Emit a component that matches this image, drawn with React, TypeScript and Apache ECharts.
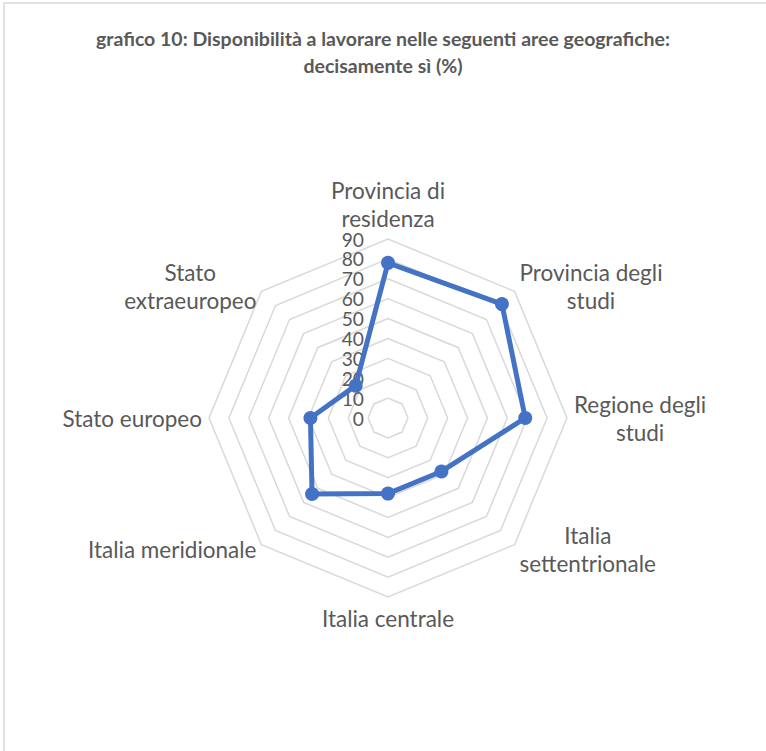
import React, { useEffect, useRef } from "react";
import * as echarts from "echarts";

const titleLines = [
  "grafico 10: Disponibilità a lavorare nelle seguenti aree geografiche:",
  "decisamente sì (%)",
];

// Clockwise order starting from the top, as in the reference
const categories = [
  "Provincia di\nresidenza",
  "Provincia degli\nstudi",
  "Regione degli\nstudi",
  "Italia\nsettentrionale",
  "Italia centrale",
  "Italia meridionale",
  "Stato europeo",
  "Stato\nextraeuropeo",
];
const values = [78, 81, 69, 38, 38, 54, 39, 23];
const axisMin = 0;
const axisMax = 90;
const axisSplit = 9;

const FONT = "Lato, 'Open Sans', sans-serif";
const TEXT = "#595959";
const GRID = "#d9d9d9";
const BLUE = "#4472C4";

export default function App() {
  const ref = useRef<HTMLDivElement>(null);
  useEffect(() => {
    if (!ref.current) return;
    const chart = echarts.init(ref.current, undefined, { renderer: "svg" });
    // ECharts radar places indicators counter-clockwise; reorder to clockwise
    const order = [0, ...categories.map((_, i) => i).slice(1).reverse()];
    const indicator = order.map((i, k) => {
      const ind: any = { name: categories[i], min: axisMin, max: axisMax };
      if (k === 0) {
        ind.axisLabel = {
          show: true,
          showMinLabel: true,
          showMaxLabel: true,
          hideOverlap: false,
          fontSize: 19.2,
          fontFamily: FONT,
          color: TEXT,
          margin: 24,
        };
      }
      return ind;
    });
    const data = order.map((i) => values[i]);
    chart.setOption({
      animation: false,
      backgroundColor: "#ffffff",
      title: {
        text: titleLines.join("\n"),
        left: "center",
        top: 20,
        textStyle: {
          fontFamily: FONT,
          fontWeight: "bold",
          fontSize: 19.5,
          color: TEXT,
          lineHeight: 27,
        },
      },
      graphic: [
        {
          type: "rect",
          shape: { x: 4, y: 3, width: 900, height: 900 },
          style: { fill: "none", stroke: GRID, lineWidth: 1.5 },
          silent: true,
        },
      ],
      radar: {
        center: [388, 418],
        radius: 179,
        startAngle: 90,
        shape: "polygon",
        splitNumber: axisSplit,
        indicator,
        nameGap: 7,
        axisName: {
          color: TEXT,
          fontFamily: FONT,
          fontSize: 22.5,
          formatter: (name: string) =>
            name
              .split("\n")
              .map((l) => `{c|${l}}`)
              .join("\n"),
          rich: {
            c: {
              align: "center",
              color: TEXT,
              fontFamily: FONT,
              fontSize: 22.5,
              lineHeight: 28,
            },
          },
        },
        axisLine: { show: false },
        axisTick: { show: false },
        axisLabel: { show: false },
        splitArea: { show: false },
        splitLine: { show: true, lineStyle: { color: GRID, width: 1.5 } },
      },
      series: [
        {
          type: "radar",
          symbol: "circle",
          symbolSize: 14,
          lineStyle: { color: BLUE, width: 5 },
          itemStyle: { color: BLUE },
          data: [{ value: data, name: "decisamente sì" }],
        },
      ],
    });
    return () => chart.dispose();
  }, []);
  return (
    <div
      ref={ref}
      style={{ position: "absolute", left: 0, top: 0, width: 766, height: 751 }}
    />
  );
}
